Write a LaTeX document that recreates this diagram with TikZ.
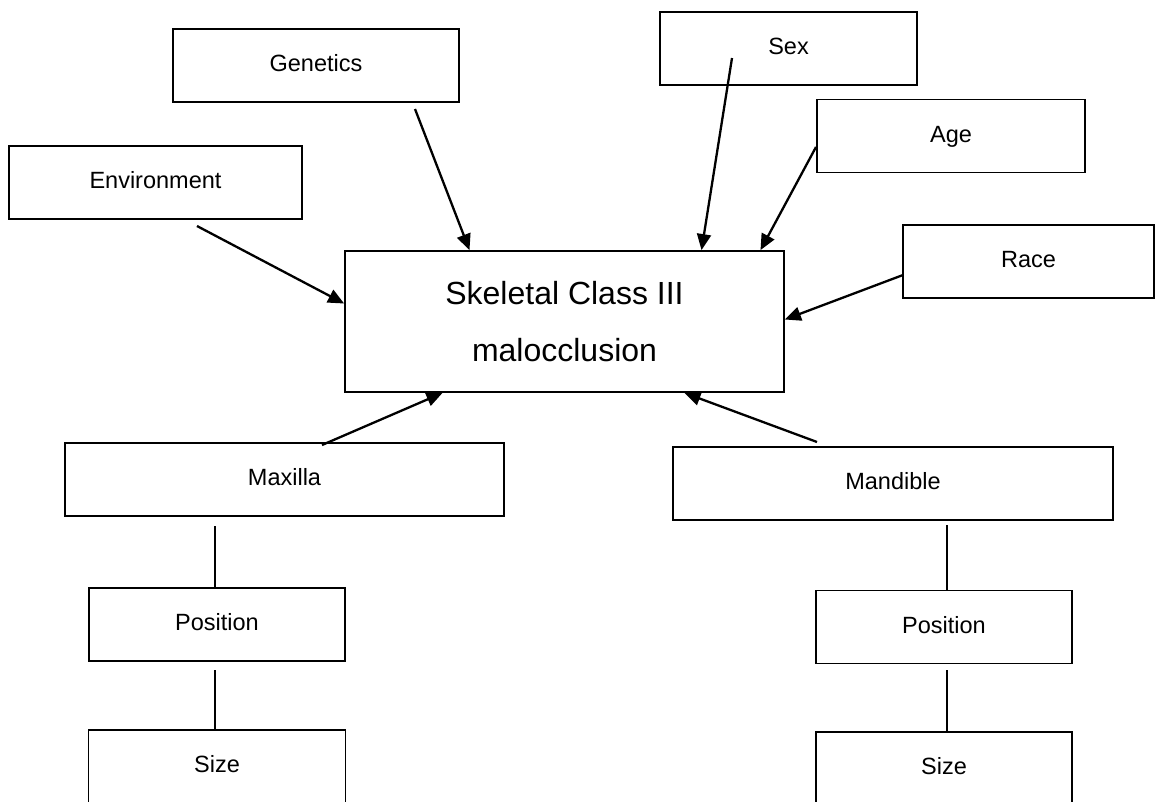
\documentclass[tikz,border=0pt]{standalone}
\usepackage{fontspec}
\setmainfont{Liberation Sans}
\usetikzlibrary{arrows.meta, positioning}

\begin{document}
\begin{tikzpicture}[
    x=1pt, y=-1pt,
    factor/.style={rectangle, draw=black, line width=1.8pt, inner sep=0pt, minimum height=73pt, text height=17pt, text depth=5pt, font=\fontsize{23.5}{28}\selectfont},
    outcome/.style={rectangle, draw=black, line width=1.8pt, inner sep=0pt, minimum width=439pt, minimum height=141pt, align=center, font=\fontsize{32}{57}\selectfont},
    arrow/.style={-{Triangle[length=16pt,width=14pt]}, line width=2.3pt},
    link/.style={line width=1.8pt}
]
\useasboundingbox (0,0) rectangle (1155,801);
\clip (0,0) rectangle (1155,801);

% Outcome
\node[outcome] (skeletal) at (564.5,321.5) {Skeletal Class III\\malocclusion};

% Risk factors
\node[factor, minimum width=293pt] (environment) at (155.5,182.5) {Environment};
\node[factor, minimum width=286pt] (genetics) at (316,65.5) {Genetics};
\node[factor, minimum width=257pt] (sex) at (788.5,48.5) {Sex};
\node[factor, minimum width=268pt] (age) at (951,136) {Age};
\node[factor, minimum width=251pt] (race) at (1028.5,261.5) {Race};

% Jaws
\node[factor, minimum width=439pt] (maxilla) at (284.5,479.5) {Maxilla};
\node[factor, minimum width=440pt] (mandible) at (893,483.5) {Mandible};

% Jaw details
\node[factor, minimum width=256pt] (max-position) at (217,624.5) {Position};
\node[factor, minimum width=257pt, below=67.5pt of max-position] (max-size) {Size};
\node[factor, minimum width=256pt] (mand-position) at (944,627) {Position};
\node[factor, minimum width=256pt, below=66.5pt of mand-position] (mand-size) {Size};

% Free ends of the connectors
\coordinate (env-tail) at (197,226);
\coordinate (gen-tail) at (415,109);
\coordinate (sex-tail) at (732,58);
\coordinate (age-tail) at (816,147);
\coordinate (race-tail) at (903,275);
\coordinate (max-tail) at (322,445);
\coordinate (mand-tail) at (817,442);
\coordinate (max-foot) at (215,526);
\coordinate (maxpos-foot) at (215,670);
\coordinate (mand-foot) at (947,525);
\coordinate (mandpos-foot) at (947,670);

% Arrows into the outcome
\draw[arrow] (env-tail) -- ([yshift=18pt]skeletal.west);
\draw[arrow] (gen-tail) -- ([xshift=-95pt]skeletal.north);
\draw[arrow] (sex-tail) -- ([xshift=137pt]skeletal.north);
\draw[arrow] (age-tail) -- ([xshift=196pt]skeletal.north);
\draw[arrow] (race-tail) -- ([yshift=2pt]skeletal.east);
\draw[arrow] (max-tail) -- ([xshift=-122pt]skeletal.south);
\draw[arrow] (mand-tail) -- ([xshift=120pt]skeletal.south);

% Jaw links
\draw[link] (max-foot) -- (max-foot |- max-position.north);
\draw[link] (maxpos-foot) -- (maxpos-foot |- max-size.north);
\draw[link] (mand-foot) -- (mand-foot |- mand-position.north);
\draw[link] (mandpos-foot) -- (mandpos-foot |- mand-size.north);

\end{tikzpicture}
\end{document}
